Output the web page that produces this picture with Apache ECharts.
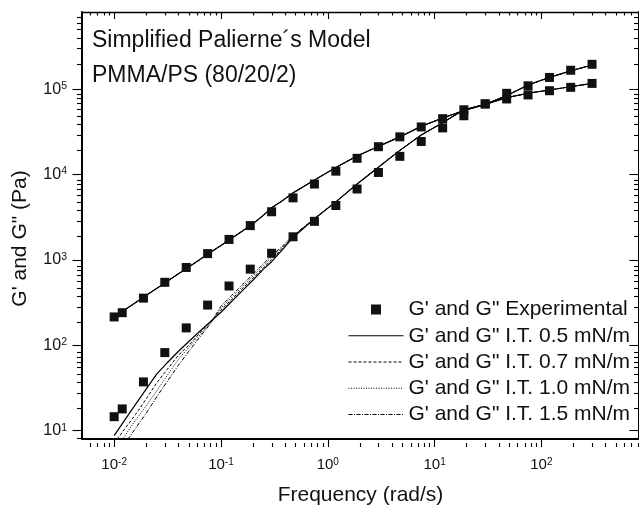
<!DOCTYPE html>
<html><head><meta charset="utf-8">
<script src="https://cdn.jsdelivr.net/npm/echarts@6/dist/echarts.min.js"></script>
<style>html,body{margin:0;padding:0;background:#fff}#c{width:639px;height:511px}</style>
</head><body><div id="c"></div>
<script>
// ---------- data ----------
const freqExp = [0.01, 0.0119, 0.0188, 0.0298, 0.0473, 0.075, 0.119, 0.188, 0.298, 0.473, 0.75, 1.19, 1.88, 2.98, 4.73, 7.5, 11.9, 18.8, 29.8, 47.3, 75, 119, 188, 298];
const gLossExp = [215, 241, 357, 547, 816, 1186, 1738, 2524, 3664, 5330, 7740, 10950, 15480, 21170, 27620, 36060, 45080, 57300, 67100, 76700, 85500, 95800, 104900, 116700];
const gStorageExp = [14.6, 18.0, 37.3, 82.2, 160, 296, 495, 780, 1196, 1866, 2830, 4335, 6770, 10570, 16330, 24380, 35160, 48770, 67100, 89300, 109400, 137000, 166400, 195300];

const freqModel = [0.01, 0.0125, 0.0158, 0.02, 0.025, 0.0316, 0.04, 0.05, 0.063, 0.08, 0.1, 0.125, 0.158, 0.2, 0.25, 0.298, 0.375, 0.473, 0.75, 1.19, 1.88, 2.98, 4.73, 7.5, 11.9, 18.8, 29.8, 47.3, 75, 119, 188, 298];
const gLossModel = [215, 259, 316, 385, 464, 565, 687, 828, 1005, 1228, 1476, 1778, 2173, 2661, 3340, 4080, 4921, 6095, 8610, 12080, 16480, 21340, 27620, 36640, 45880, 56100, 66400, 79500, 89400, 97700, 106700, 116800];
const gStorage05 = [8.75, 13.2, 20.2, 30.9, 46.1, 63.0, 85.2, 111, 145, 190, 244, 324, 434, 582, 780, 953, 1313, 1833, 3040, 4786, 7740, 12180, 19180, 28990, 40460, 57300, 66400, 83900, 111600, 137100, 163400, 191800];
const gStorage07 = [7.12, 10.4, 15.4, 23.7, 36.3, 52.7, 76.6, 100, 138, 190, 258, 341, 458, 614, 812, 1005, 1367, 1858, 3040, 4786, 7740, 12180, 19180, 28990, 40460, 57300, 66400, 83900, 111600, 137100, 163400, 191800];
const gStorage10 = [5.9, 8.6, 13.2, 19.6, 29.3, 44.9, 68.8, 94.8, 130.6, 184.6, 272, 360, 483, 647, 857, 1060, 1403, 1907, 3040, 4786, 7740, 12180, 19180, 28990, 40460, 57300, 66400, 83900, 111600, 137100, 163400, 191800];
const gStorage15 = [4.65, 6.95, 10.6, 16.1, 24.9, 38.2, 58.6, 85.2, 123.8, 180, 287, 380, 509, 682, 903, 1119, 1442, 1933, 3040, 4786, 7740, 12180, 19180, 28990, 40460, 57300, 66400, 83900, 111600, 137100, 163400, 191800];

const expName = 'G\' and G" Experimental';
const modelNames = ['G\' and G" I.T. 0.5 mN/m', 'G\' and G" I.T. 0.7 mN/m', 'G\' and G" I.T. 1.0 mN/m', 'G\' and G" I.T. 1.5 mN/m'];
const titleLines = ['Simplified Palierne\u00B4s Model', 'PMMA/PS (80/20/2)'];
const xAxisTitle = 'Frequency (rad/s)';
const yAxisTitle = 'G\' and G" (Pa)';

const xTickValues = [0.01, 0.1, 1, 10, 100];
const xTickExponents = ['-2', '-1', '0', '1', '2'];
const yTickValues = [10, 100, 1000, 10000, 100000];
const yTickExponents = ['1', '2', '3', '4', '5'];

const X_MIN = 0.005, X_MAX = 820, Y_MIN = 8, Y_MAX = 800000;

// ---------- helpers ----------
const FONT = '"Liberation Sans", Arial, Helvetica, sans-serif';
const INK = '#111';
function minorTicks(lo, hi) {
  const out = [];
  for (let e = -4; e <= 6; e++) for (let k = 2; k <= 9; k++) {
    const v = +(k * Math.pow(10, e)).toPrecision(4);
    if (v > lo * 1.0001 && v < hi * 0.9999) out.push(v);
  }
  return out;
}
function powerLabel(values, exps) {
  return function (v) {
    const i = values.findIndex(t => Math.abs(Math.log10(t) - Math.log10(v)) < 1e-6);
    return i < 0 ? '' : '{b|10}{s|' + exps[i] + '}';
  };
}
function pairs(xs, ys) { return xs.map((x, i) => [x, ys[i]]); }

const GRID = { left: 82, top: 12, width: 560, height: 431 };
const xRich = { b: { fontSize: 15, lineHeight: 16, fontFamily: FONT, color: INK },
                s: { fontSize: 10, lineHeight: 7, verticalAlign: 'top', fontFamily: FONT, color: INK } };
const yRich = { b: { fontSize: 16, lineHeight: 17, fontFamily: FONT, color: INK },
                s: { fontSize: 10.5, lineHeight: 7, verticalAlign: 'top', fontFamily: FONT, color: INK } };

function xAxisDef(gridIndex, position, major) {
  const ticks = major ? xTickValues : minorTicks(X_MIN, X_MAX);
  const bottom = position === 'bottom';
  const a = {
    type: 'log', logBase: 10, gridIndex, position, min: X_MIN, max: X_MAX,
    axisLine: { show: major, onZero: false, lineStyle: { color: '#000', width: bottom ? 2 : 1.3 } },
    axisTick: { show: true, inside: !bottom, length: major ? (bottom ? 8 : 7) : (bottom ? 4 : 3.5),
                customValues: ticks, lineStyle: { color: '#000', width: 1.1 } },
    axisLabel: { show: major && bottom, customValues: xTickValues, margin: 18,
                 formatter: powerLabel(xTickValues, xTickExponents), rich: xRich },
    splitLine: { show: false }
  };
  if (major && bottom) {
    a.name = xAxisTitle; a.nameLocation = 'middle'; a.nameGap = 46;
    a.nameTextStyle = { fontSize: 21, fontFamily: FONT, color: INK };
  }
  return a;
}
function yAxisDef(gridIndex, position, major) {
  const ticks = major ? yTickValues : minorTicks(Y_MIN, Y_MAX);
  const left = position === 'left';
  const a = {
    type: 'log', logBase: 10, gridIndex, position, min: Y_MIN, max: Y_MAX,
    axisLine: { show: major, onZero: false, lineStyle: { color: '#000', width: 2 } },
    axisTick: { show: true, inside: !left, length: major ? 9.5 : 5,
                customValues: ticks, lineStyle: { color: '#000', width: 1.1 } },
    axisLabel: { show: major && left, customValues: yTickValues, margin: 15,
                 formatter: powerLabel(yTickValues, yTickExponents), rich: yRich },
    splitLine: { show: false }
  };
  if (major && left) {
    a.name = yAxisTitle; a.nameLocation = 'middle'; a.nameGap = 51;
    a.nameTextStyle = { fontSize: 21, fontFamily: FONT, color: INK, padding: [0, 26, 0, 0] };
  }
  return a;
}

const lineTypes = ['solid', [3, 2], [1, 1.5], [4, 1.5, 1, 1.5]];
const storageSets = [gStorage05, gStorage07, gStorage10, gStorage15];

const series = [];
modelNames.forEach((name, i) => {
  const common = {
    name, type: 'line', xAxisIndex: 0, yAxisIndex: 0, symbol: 'none', clip: true, z: 2,
    lineStyle: { color: '#000', width: i === 0 ? 1.2 : 1, type: lineTypes[i] },
    itemStyle: { color: '#000' }
  };
  series.push(Object.assign({}, common, { data: pairs(freqModel, gLossModel) }));
  series.push(Object.assign({}, common, { data: pairs(freqModel, storageSets[i]) }));
});
[gLossExp, gStorageExp].forEach(vals => {
  series.push({ name: expName, type: 'scatter', xAxisIndex: 0, yAxisIndex: 0, symbol: 'rect',
    symbolSize: 9, z: 5, itemStyle: { color: INK, opacity: 1 }, data: pairs(freqExp, vals) });
});

const chart = echarts.init(document.getElementById('c'), null, { renderer: 'canvas' });
chart.setOption({
  animation: false,
  backgroundColor: '#fff',
  title: [
    { text: titleLines[0], left: 92, top: 29.5, padding: 0, textStyle: { fontSize: 23, fontWeight: 'normal', fontFamily: FONT, color: INK } },
    { text: titleLines[1], left: 92, top: 64.5, padding: 0, textStyle: { fontSize: 23, fontWeight: 'normal', fontFamily: FONT, color: INK } }
  ],
  legend: {
    orient: 'vertical', left: 348, top: 299, padding: 0, itemWidth: 55, itemHeight: 10, itemGap: 5.25,
    textStyle: { fontSize: 21, fontFamily: FONT, color: INK },
    itemStyle: { borderWidth: 0 },
    lineStyle: { width: 1 },
    data: [{ name: expName, icon: 'path://M0,0L10,0L10,10L0,10Z', itemStyle: { color: INK, opacity: 1 } }]
      .concat(modelNames.map(n => ({ name: n, itemStyle: { opacity: 0 } })))
  },
  grid: [Object.assign({}, GRID), Object.assign({}, GRID)],
  xAxis: [xAxisDef(0, 'bottom', true), xAxisDef(0, 'top', true), xAxisDef(1, 'bottom', false), xAxisDef(1, 'top', false)],
  yAxis: [yAxisDef(0, 'left', true), yAxisDef(0, 'right', true), yAxisDef(1, 'left', false), yAxisDef(1, 'right', false)],
  series
});
</script></body></html>
